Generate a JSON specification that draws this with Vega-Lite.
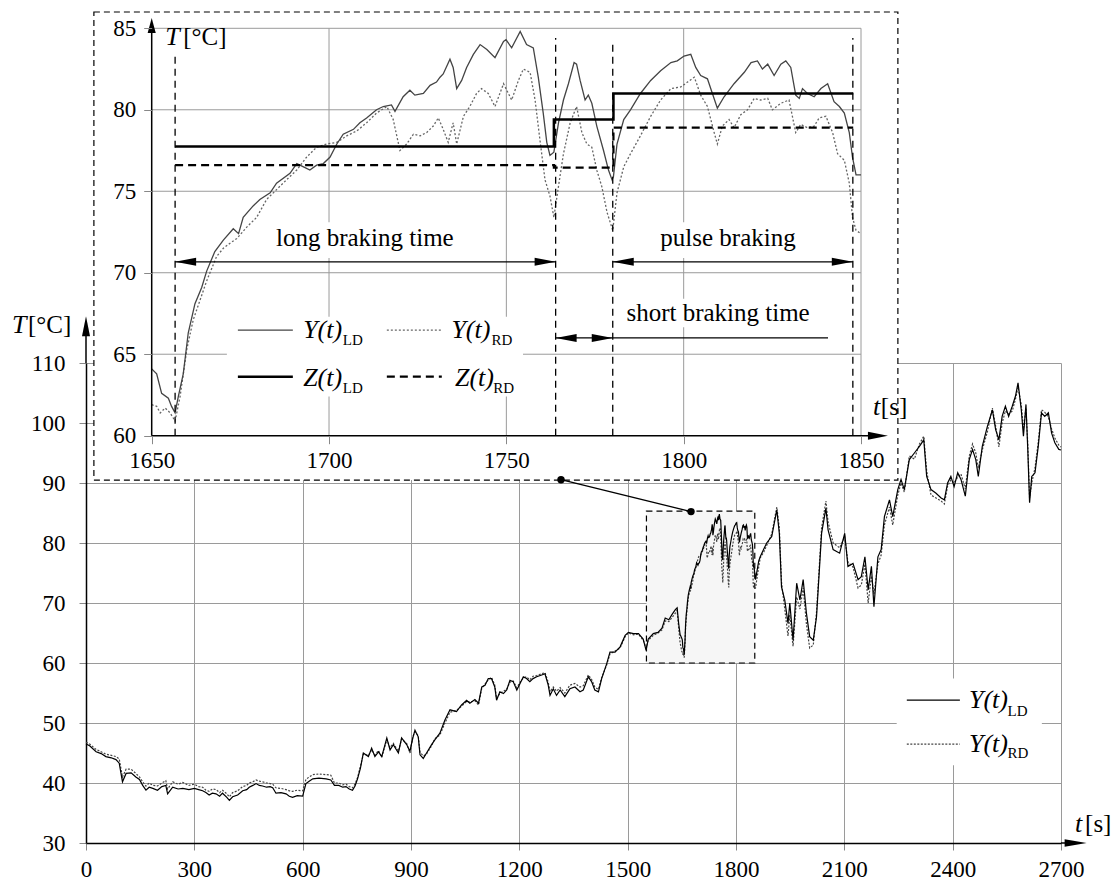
{
"$schema":"https://vega.github.io/schema/vega-lite/v6.json",
"width":975,"height":480,
"autosize":{"type":"none"},
"padding":{"left":86,"top":363,"right":51,"bottom":39},
"background":"white",
"config":{"view":{"stroke":null},"font":"Liberation Serif",
"axis":{"labelFont":"Liberation Serif","labelFontSize":23,"labelColor":"#000","tickColor":"#888","gridColor":"#9a9a9a","gridWidth":1,"domainColor":"#000","labelFlush":false,"labelOverlap":false,"format":"d"},
"text":{"font":"Liberation Serif","color":"#000"}},
"datasets":{"temps":[
{"t":0,"v":46.5,"s":"LD"},{"t":10,"v":46.2,"s":"LD"},{"t":28,"v":45.2,"s":"LD"},{"t":42,"v":44.9,"s":"LD"},{"t":55,"v":44.4,"s":"LD"},{"t":70,"v":44.2,"s":"LD"},{"t":83,"v":43.9,"s":"LD"},{"t":92,"v":43.3,"s":"LD"},{"t":101,"v":40.2,"s":"LD"},{"t":111,"v":41.6,"s":"LD"},{"t":125,"v":41.7,"s":"LD"},{"t":138,"v":41.0,"s":"LD"},{"t":148,"v":40.6,"s":"LD"},{"t":157,"v":39.6,"s":"LD"},{"t":166,"v":38.8,"s":"LD"},{"t":175,"v":39.3,"s":"LD"},{"t":185,"v":39.1,"s":"LD"},{"t":198,"v":38.8,"s":"LD"},{"t":210,"v":39.4,"s":"LD"},{"t":221,"v":39.6,"s":"LD"},{"t":226,"v":38.2,"s":"LD"},{"t":240,"v":39.3,"s":"LD"},{"t":255,"v":39.0,"s":"LD"},{"t":268,"v":39.1,"s":"LD"},{"t":285,"v":38.9,"s":"LD"},{"t":300,"v":39.1,"s":"LD"},{"t":312,"v":38.9,"s":"LD"},{"t":323,"v":38.7,"s":"LD"},{"t":332,"v":38.4,"s":"LD"},{"t":341,"v":38.0,"s":"LD"},{"t":350,"v":38.3,"s":"LD"},{"t":360,"v":38.2,"s":"LD"},{"t":370,"v":37.8,"s":"LD"},{"t":378,"v":38.3,"s":"LD"},{"t":390,"v":37.6,"s":"LD"},{"t":397,"v":37.1,"s":"LD"},{"t":406,"v":37.7,"s":"LD"},{"t":420,"v":38.0,"s":"LD"},{"t":434,"v":38.7,"s":"LD"},{"t":445,"v":38.9,"s":"LD"},{"t":452,"v":39.3,"s":"LD"},{"t":462,"v":39.6,"s":"LD"},{"t":471,"v":39.9,"s":"LD"},{"t":480,"v":39.6,"s":"LD"},{"t":489,"v":39.5,"s":"LD"},{"t":500,"v":39.3,"s":"LD"},{"t":510,"v":39.4,"s":"LD"},{"t":517,"v":39.2,"s":"LD"},{"t":526,"v":38.3,"s":"LD"},{"t":540,"v":38.4,"s":"LD"},{"t":554,"v":38.2,"s":"LD"},{"t":563,"v":37.8,"s":"LD"},{"t":572,"v":37.6,"s":"LD"},{"t":585,"v":37.9,"s":"LD"},{"t":600,"v":37.8,"s":"LD"},{"t":609,"v":39.9,"s":"LD"},{"t":618,"v":40.3,"s":"LD"},{"t":628,"v":40.7,"s":"LD"},{"t":645,"v":40.8,"s":"LD"},{"t":665,"v":40.7,"s":"LD"},{"t":678,"v":40.5,"s":"LD"},{"t":688,"v":39.6,"s":"LD"},{"t":700,"v":39.6,"s":"LD"},{"t":711,"v":39.3,"s":"LD"},{"t":720,"v":39.4,"s":"LD"},{"t":729,"v":39.0,"s":"LD"},{"t":738,"v":38.8,"s":"LD"},{"t":745,"v":39.5,"s":"LD"},{"t":752,"v":40.7,"s":"LD"},{"t":760,"v":42.5,"s":"LD"},{"t":768,"v":45.0,"s":"LD"},{"t":782,"v":44.4,"s":"LD"},{"t":791,"v":45.8,"s":"LD"},{"t":800,"v":44.4,"s":"LD"},{"t":810,"v":45.2,"s":"LD"},{"t":819,"v":44.4,"s":"LD"},{"t":833,"v":47.5,"s":"LD"},{"t":842,"v":45.5,"s":"LD"},{"t":851,"v":46.4,"s":"LD"},{"t":865,"v":45.0,"s":"LD"},{"t":874,"v":47.5,"s":"LD"},{"t":888,"v":46.4,"s":"LD"},{"t":897,"v":45.3,"s":"LD"},{"t":905,"v":47.5,"s":"LD"},{"t":911,"v":48.8,"s":"LD"},{"t":920,"v":47.7,"s":"LD"},{"t":925,"v":44.7,"s":"LD"},{"t":934,"v":44.1,"s":"LD"},{"t":943,"v":45.0,"s":"LD"},{"t":957,"v":46.4,"s":"LD"},{"t":966,"v":47.2,"s":"LD"},{"t":980,"v":48.3,"s":"LD"},{"t":994,"v":50.5,"s":"LD"},{"t":1008,"v":52.2,"s":"LD"},{"t":1026,"v":51.9,"s":"LD"},{"t":1040,"v":53.0,"s":"LD"},{"t":1054,"v":53.8,"s":"LD"},{"t":1063,"v":53.3,"s":"LD"},{"t":1077,"v":53.9,"s":"LD"},{"t":1087,"v":53.3,"s":"LD"},{"t":1096,"v":56.0,"s":"LD"},{"t":1105,"v":56.3,"s":"LD"},{"t":1114,"v":57.4,"s":"LD"},{"t":1123,"v":57.4,"s":"LD"},{"t":1132,"v":56.0,"s":"LD"},{"t":1137,"v":53.8,"s":"LD"},{"t":1146,"v":55.2,"s":"LD"},{"t":1156,"v":54.9,"s":"LD"},{"t":1165,"v":55.5,"s":"LD"},{"t":1174,"v":57.1,"s":"LD"},{"t":1183,"v":56.9,"s":"LD"},{"t":1193,"v":55.5,"s":"LD"},{"t":1202,"v":56.6,"s":"LD"},{"t":1211,"v":57.7,"s":"LD"},{"t":1220,"v":57.4,"s":"LD"},{"t":1229,"v":56.9,"s":"LD"},{"t":1238,"v":57.4,"s":"LD"},{"t":1248,"v":57.7,"s":"LD"},{"t":1262,"v":58.0,"s":"LD"},{"t":1271,"v":58.2,"s":"LD"},{"t":1280,"v":56.3,"s":"LD"},{"t":1285,"v":54.6,"s":"LD"},{"t":1294,"v":55.7,"s":"LD"},{"t":1303,"v":54.6,"s":"LD"},{"t":1313,"v":55.5,"s":"LD"},{"t":1326,"v":54.4,"s":"LD"},{"t":1340,"v":55.7,"s":"LD"},{"t":1354,"v":56.0,"s":"LD"},{"t":1368,"v":55.2,"s":"LD"},{"t":1377,"v":55.5,"s":"LD"},{"t":1391,"v":57.7,"s":"LD"},{"t":1400,"v":56.9,"s":"LD"},{"t":1409,"v":55.5,"s":"LD"},{"t":1419,"v":55.2,"s":"LD"},{"t":1428,"v":57.4,"s":"LD"},{"t":1442,"v":59.9,"s":"LD"},{"t":1451,"v":61.8,"s":"LD"},{"t":1465,"v":61.8,"s":"LD"},{"t":1479,"v":62.7,"s":"LD"},{"t":1493,"v":64.6,"s":"LD"},{"t":1502,"v":65.1,"s":"LD"},{"t":1516,"v":64.9,"s":"LD"},{"t":1530,"v":64.9,"s":"LD"},{"t":1543,"v":64.0,"s":"LD"},{"t":1551,"v":62.1,"s":"LD"},{"t":1557,"v":64.0,"s":"LD"},{"t":1571,"v":64.9,"s":"LD"},{"t":1584,"v":65.1,"s":"LD"},{"t":1595,"v":65.8,"s":"LD"},{"t":1604,"v":67.5,"s":"LD"},{"t":1614,"v":67.2,"s":"LD"},{"t":1623,"v":68.1,"s":"LD"},{"t":1632,"v":68.9,"s":"LD"},{"t":1637,"v":69.2,"s":"LD"},{"t":1641,"v":66.7,"s":"LD"},{"t":1645,"v":64.8,"s":"LD"},
{"t":1650,"v":64.1,"s":"LD"},{"t":1651.4,"v":63.8,"s":"LD"},{"t":1652.8,"v":62.6,"s":"LD"},{"t":1654.7,"v":62.3,"s":"LD"},{"t":1655.6,"v":61.8,"s":"LD"},{"t":1656.6,"v":61.4,"s":"LD"},{"t":1657.5,"v":62.4,"s":"LD"},{"t":1658.9,"v":63.8,"s":"LD"},{"t":1660.3,"v":66.3,"s":"LD"},{"t":1662.2,"v":68.1,"s":"LD"},{"t":1664.1,"v":69.1,"s":"LD"},{"t":1665.5,"v":70.1,"s":"LD"},{"t":1667.8,"v":71.3,"s":"LD"},{"t":1670.2,"v":72.0,"s":"LD"},{"t":1673,"v":72.7,"s":"LD"},{"t":1674.5,"v":72.4,"s":"LD"},{"t":1675.8,"v":73.4,"s":"LD"},{"t":1678.6,"v":74.1,"s":"LD"},{"t":1680.5,"v":74.5,"s":"LD"},{"t":1683.4,"v":74.9,"s":"LD"},{"t":1685.2,"v":75.5,"s":"LD"},{"t":1689,"v":76.1,"s":"LD"},{"t":1690.9,"v":76.7,"s":"LD"},{"t":1692.8,"v":76.5,"s":"LD"},{"t":1694.6,"v":76.3,"s":"LD"},{"t":1696.5,"v":76.6,"s":"LD"},{"t":1698.4,"v":76.7,"s":"LD"},{"t":1700.3,"v":77.1,"s":"LD"},{"t":1702.2,"v":77.9,"s":"LD"},{"t":1704,"v":78.5,"s":"LD"},{"t":1706.9,"v":78.8,"s":"LD"},{"t":1708.7,"v":79.2,"s":"LD"},{"t":1710.6,"v":79.5,"s":"LD"},{"t":1713.4,"v":80.0,"s":"LD"},{"t":1715.3,"v":80.2,"s":"LD"},{"t":1717.6,"v":80.3,"s":"LD"},{"t":1718.6,"v":79.9,"s":"LD"},{"t":1720.9,"v":80.8,"s":"LD"},{"t":1722.8,"v":81.2,"s":"LD"},{"t":1724.2,"v":80.9,"s":"LD"},{"t":1726.6,"v":81.0,"s":"LD"},{"t":1728.5,"v":81.5,"s":"LD"},{"t":1730.3,"v":81.7,"s":"LD"},{"t":1731.3,"v":82.0,"s":"LD"},{"t":1732.2,"v":82.2,"s":"LD"},{"t":1734.1,"v":83.1,"s":"LD"},{"t":1735,"v":82.6,"s":"LD"},{"t":1736,"v":81.3,"s":"LD"},{"t":1737.4,"v":81.8,"s":"LD"},{"t":1738.8,"v":82.6,"s":"LD"},{"t":1740.7,"v":83.4,"s":"LD"},{"t":1742.6,"v":84.0,"s":"LD"},{"t":1744.5,"v":83.7,"s":"LD"},{"t":1746.8,"v":83.2,"s":"LD"},{"t":1749.2,"v":84.2,"s":"LD"},{"t":1749.9,"v":84.3,"s":"LD"},{"t":1751.5,"v":83.8,"s":"LD"},{"t":1753.9,"v":84.8,"s":"LD"},{"t":1755.7,"v":84.0,"s":"LD"},{"t":1757.6,"v":83.8,"s":"LD"},{"t":1759,"v":82.0,"s":"LD"},{"t":1760.4,"v":79.8,"s":"LD"},{"t":1761.4,"v":78.0,"s":"LD"},{"t":1762.3,"v":77.2,"s":"LD"},{"t":1763.4,"v":77.4,"s":"LD"},{"t":1764.7,"v":79.2,"s":"LD"},{"t":1766.1,"v":80.6,"s":"LD"},{"t":1767.5,"v":81.6,"s":"LD"},{"t":1769.1,"v":82.9,"s":"LD"},{"t":1769.8,"v":82.8,"s":"LD"},{"t":1770.8,"v":81.8,"s":"LD"},{"t":1772.2,"v":80.6,"s":"LD"},{"t":1773.1,"v":80.9,"s":"LD"},{"t":1774.1,"v":80.4,"s":"LD"},{"t":1775.5,"v":79.0,"s":"LD"},{"t":1777.4,"v":77.5,"s":"LD"},{"t":1778.8,"v":76.3,"s":"LD"},{"t":1779.8,"v":75.7,"s":"LD"},{"t":1780.2,"v":75.9,"s":"LD"},{"t":1781.2,"v":77.9,"s":"LD"},{"t":1783.1,"v":79.4,"s":"LD"},{"t":1785,"v":80.0,"s":"LD"},{"t":1787.8,"v":81.0,"s":"LD"},{"t":1790.7,"v":81.8,"s":"LD"},{"t":1793.5,"v":82.4,"s":"LD"},{"t":1796.4,"v":82.9,"s":"LD"},{"t":1798.2,"v":83.0,"s":"LD"},{"t":1800.1,"v":83.3,"s":"LD"},{"t":1802,"v":83.4,"s":"LD"},{"t":1803.4,"v":82.6,"s":"LD"},{"t":1804.8,"v":82.1,"s":"LD"},{"t":1806.7,"v":81.9,"s":"LD"},{"t":1808.1,"v":81.0,"s":"LD"},{"t":1809.5,"v":80.1,"s":"LD"},{"t":1811.4,"v":80.8,"s":"LD"},{"t":1814.2,"v":81.6,"s":"LD"},{"t":1817.1,"v":82.3,"s":"LD"},{"t":1819,"v":82.9,"s":"LD"},{"t":1820.8,"v":83.0,"s":"LD"},{"t":1822.2,"v":82.5,"s":"LD"},{"t":1823.7,"v":82.8,"s":"LD"},{"t":1825.5,"v":82.1,"s":"LD"},{"t":1827.4,"v":82.8,"s":"LD"},{"t":1828.8,"v":83.0,"s":"LD"},{"t":1830.2,"v":82.6,"s":"LD"},{"t":1831.6,"v":80.9,"s":"LD"},{"t":1832.6,"v":80.7,"s":"LD"},{"t":1833.5,"v":81.3,"s":"LD"},{"t":1834.9,"v":81.0,"s":"LD"},{"t":1836.8,"v":80.8,"s":"LD"},{"t":1838.7,"v":81.3,"s":"LD"},{"t":1840.6,"v":81.6,"s":"LD"},{"t":1842.4,"v":80.5,"s":"LD"},{"t":1843.9,"v":80.2,"s":"LD"},{"t":1845.3,"v":79.8,"s":"LD"},{"t":1846.7,"v":78.6,"s":"LD"},{"t":1847.6,"v":77.1,"s":"LD"},{"t":1848.6,"v":76.0,"s":"LD"},{"t":1850,"v":76.0,"s":"LD"},
{"t":1854,"v":73.9,"s":"LD"},{"t":1863,"v":77.0,"s":"LD"},{"t":1867,"v":77.7,"s":"LD"},{"t":1877,"v":79.0,"s":"LD"},{"t":1885,"v":80.0,"s":"LD"},{"t":1899,"v":81.1,"s":"LD"},{"t":1913,"v":85.5,"s":"LD"},{"t":1920,"v":81.6,"s":"LD"},{"t":1926,"v":72.7,"s":"LD"},{"t":1935,"v":70.5,"s":"LD"},{"t":1944,"v":66.6,"s":"LD"},{"t":1949,"v":70.0,"s":"LD"},{"t":1958,"v":63.8,"s":"LD"},{"t":1968,"v":73.3,"s":"LD"},{"t":1977,"v":70.5,"s":"LD"},{"t":1986,"v":73.9,"s":"LD"},{"t":1995,"v":68.3,"s":"LD"},{"t":2004,"v":64.4,"s":"LD"},{"t":2014,"v":63.8,"s":"LD"},{"t":2023,"v":67.7,"s":"LD"},{"t":2037,"v":81.6,"s":"LD"},{"t":2049,"v":85.8,"s":"LD"},{"t":2055,"v":82.2,"s":"LD"},{"t":2069,"v":78.9,"s":"LD"},{"t":2087,"v":78.3,"s":"LD"},{"t":2101,"v":81.6,"s":"LD"},{"t":2110,"v":76.1,"s":"LD"},{"t":2124,"v":76.6,"s":"LD"},{"t":2138,"v":73.9,"s":"LD"},{"t":2147,"v":74.4,"s":"LD"},{"t":2157,"v":77.7,"s":"LD"},{"t":2166,"v":72.2,"s":"LD"},{"t":2175,"v":76.1,"s":"LD"},{"t":2182,"v":69.4,"s":"LD"},{"t":2193,"v":77.7,"s":"LD"},{"t":2202,"v":78.9,"s":"LD"},{"t":2211,"v":84.4,"s":"LD"},{"t":2225,"v":87.2,"s":"LD"},{"t":2234,"v":84.4,"s":"LD"},{"t":2248,"v":88.9,"s":"LD"},{"t":2257,"v":90.6,"s":"LD"},{"t":2266,"v":88.9,"s":"LD"},{"t":2280,"v":93.9,"s":"LD"},{"t":2294,"v":95.0,"s":"LD"},{"t":2308,"v":96.1,"s":"LD"},{"t":2320,"v":97.2,"s":"LD"},{"t":2328,"v":91.1,"s":"LD"},{"t":2340,"v":88.9,"s":"LD"},{"t":2354,"v":88.3,"s":"LD"},{"t":2368,"v":87.5,"s":"LD"},{"t":2377,"v":87.2,"s":"LD"},{"t":2386,"v":90.0,"s":"LD"},{"t":2395,"v":91.1,"s":"LD"},{"t":2404,"v":89.4,"s":"LD"},{"t":2414,"v":91.7,"s":"LD"},{"t":2423,"v":90.6,"s":"LD"},{"t":2435,"v":87.8,"s":"LD"},{"t":2446,"v":93.9,"s":"LD"},{"t":2455,"v":95.6,"s":"LD"},{"t":2464,"v":93.9,"s":"LD"},{"t":2471,"v":91.1,"s":"LD"},{"t":2482,"v":96.1,"s":"LD"},{"t":2496,"v":99.4,"s":"LD"},{"t":2510,"v":102.2,"s":"LD"},{"t":2519,"v":98.9,"s":"LD"},{"t":2528,"v":97.2,"s":"LD"},{"t":2537,"v":101.1,"s":"LD"},{"t":2546,"v":102.8,"s":"LD"},{"t":2555,"v":101.1,"s":"LD"},{"t":2565,"v":102.8,"s":"LD"},{"t":2574,"v":104.5,"s":"LD"},{"t":2581,"v":106.7,"s":"LD"},{"t":2590,"v":102.2,"s":"LD"},{"t":2596,"v":97.8,"s":"LD"},{"t":2603,"v":103.1,"s":"LD"},{"t":2608,"v":95.6,"s":"LD"},{"t":2613,"v":86.7,"s":"LD"},{"t":2619,"v":91.1,"s":"LD"},{"t":2628,"v":91.7,"s":"LD"},{"t":2637,"v":96.1,"s":"LD"},{"t":2646,"v":101.7,"s":"LD"},{"t":2655,"v":101.1,"s":"LD"},{"t":2665,"v":101.7,"s":"LD"},{"t":2674,"v":98.3,"s":"LD"},{"t":2683,"v":96.7,"s":"LD"},{"t":2694,"v":95.6,"s":"LD"},{"t":2700,"v":95.5,"s":"LD"},
{"t":0,"v":46.8,"s":"RD"},{"t":10,"v":46.5,"s":"RD"},{"t":28,"v":45.6,"s":"RD"},{"t":42,"v":45.2,"s":"RD"},{"t":55,"v":44.8,"s":"RD"},{"t":70,"v":44.6,"s":"RD"},{"t":83,"v":44.4,"s":"RD"},{"t":92,"v":44.0,"s":"RD"},{"t":101,"v":41.0,"s":"RD"},{"t":111,"v":42.3,"s":"RD"},{"t":125,"v":42.3,"s":"RD"},{"t":138,"v":41.6,"s":"RD"},{"t":148,"v":41.0,"s":"RD"},{"t":157,"v":40.2,"s":"RD"},{"t":166,"v":39.5,"s":"RD"},{"t":175,"v":40.0,"s":"RD"},{"t":185,"v":39.6,"s":"RD"},{"t":198,"v":39.5,"s":"RD"},{"t":210,"v":40.0,"s":"RD"},{"t":221,"v":40.4,"s":"RD"},{"t":226,"v":39.0,"s":"RD"},{"t":240,"v":40.2,"s":"RD"},{"t":255,"v":39.8,"s":"RD"},{"t":268,"v":40.1,"s":"RD"},{"t":285,"v":39.6,"s":"RD"},{"t":300,"v":39.8,"s":"RD"},{"t":312,"v":39.4,"s":"RD"},{"t":323,"v":39.3,"s":"RD"},{"t":332,"v":38.8,"s":"RD"},{"t":341,"v":38.6,"s":"RD"},{"t":350,"v":39.0,"s":"RD"},{"t":360,"v":38.9,"s":"RD"},{"t":370,"v":38.4,"s":"RD"},{"t":378,"v":38.8,"s":"RD"},{"t":390,"v":38.2,"s":"RD"},{"t":397,"v":37.7,"s":"RD"},{"t":406,"v":38.4,"s":"RD"},{"t":420,"v":38.7,"s":"RD"},{"t":434,"v":39.4,"s":"RD"},{"t":445,"v":39.6,"s":"RD"},{"t":452,"v":40.0,"s":"RD"},{"t":462,"v":40.2,"s":"RD"},{"t":471,"v":40.5,"s":"RD"},{"t":480,"v":40.3,"s":"RD"},{"t":489,"v":40.2,"s":"RD"},{"t":500,"v":40.0,"s":"RD"},{"t":510,"v":39.9,"s":"RD"},{"t":517,"v":39.8,"s":"RD"},{"t":526,"v":39.2,"s":"RD"},{"t":540,"v":39.1,"s":"RD"},{"t":554,"v":38.9,"s":"RD"},{"t":563,"v":38.7,"s":"RD"},{"t":572,"v":38.6,"s":"RD"},{"t":585,"v":38.8,"s":"RD"},{"t":600,"v":38.7,"s":"RD"},{"t":609,"v":40.6,"s":"RD"},{"t":618,"v":41.0,"s":"RD"},{"t":628,"v":41.4,"s":"RD"},{"t":645,"v":41.5,"s":"RD"},{"t":665,"v":41.4,"s":"RD"},{"t":678,"v":41.3,"s":"RD"},{"t":688,"v":40.0,"s":"RD"},{"t":700,"v":40.0,"s":"RD"},{"t":711,"v":39.7,"s":"RD"},{"t":720,"v":39.8,"s":"RD"},{"t":729,"v":39.4,"s":"RD"},{"t":738,"v":39.2,"s":"RD"},{"t":745,"v":39.8,"s":"RD"},{"t":752,"v":40.9,"s":"RD"},{"t":760,"v":42.8,"s":"RD"},{"t":768,"v":44.8,"s":"RD"},{"t":782,"v":44.6,"s":"RD"},{"t":791,"v":45.5,"s":"RD"},{"t":800,"v":44.7,"s":"RD"},{"t":810,"v":45.4,"s":"RD"},{"t":819,"v":44.3,"s":"RD"},{"t":833,"v":47.2,"s":"RD"},{"t":842,"v":45.9,"s":"RD"},{"t":851,"v":46.6,"s":"RD"},{"t":865,"v":45.3,"s":"RD"},{"t":874,"v":47.3,"s":"RD"},{"t":888,"v":46.6,"s":"RD"},{"t":897,"v":45.0,"s":"RD"},{"t":905,"v":47.7,"s":"RD"},{"t":911,"v":48.5,"s":"RD"},{"t":920,"v":47.9,"s":"RD"},{"t":925,"v":45.1,"s":"RD"},{"t":934,"v":44.5,"s":"RD"},{"t":943,"v":44.8,"s":"RD"},{"t":957,"v":46.2,"s":"RD"},{"t":966,"v":47.4,"s":"RD"},{"t":980,"v":48.0,"s":"RD"},{"t":994,"v":50.0,"s":"RD"},{"t":1008,"v":51.8,"s":"RD"},{"t":1026,"v":52.1,"s":"RD"},{"t":1040,"v":52.8,"s":"RD"},{"t":1054,"v":53.6,"s":"RD"},{"t":1063,"v":53.5,"s":"RD"},{"t":1077,"v":53.7,"s":"RD"},{"t":1087,"v":53.0,"s":"RD"},{"t":1096,"v":55.8,"s":"RD"},{"t":1105,"v":56.5,"s":"RD"},{"t":1114,"v":57.2,"s":"RD"},{"t":1123,"v":57.6,"s":"RD"},{"t":1132,"v":56.3,"s":"RD"},{"t":1137,"v":54.1,"s":"RD"},{"t":1146,"v":54.9,"s":"RD"},{"t":1156,"v":55.3,"s":"RD"},{"t":1165,"v":55.6,"s":"RD"},{"t":1174,"v":56.8,"s":"RD"},{"t":1183,"v":57.0,"s":"RD"},{"t":1193,"v":55.9,"s":"RD"},{"t":1202,"v":56.8,"s":"RD"},{"t":1211,"v":57.5,"s":"RD"},{"t":1220,"v":57.7,"s":"RD"},{"t":1229,"v":57.2,"s":"RD"},{"t":1238,"v":57.8,"s":"RD"},{"t":1248,"v":57.9,"s":"RD"},{"t":1262,"v":58.2,"s":"RD"},{"t":1271,"v":58.4,"s":"RD"},{"t":1280,"v":56.8,"s":"RD"},{"t":1285,"v":55.2,"s":"RD"},{"t":1294,"v":56.0,"s":"RD"},{"t":1303,"v":55.3,"s":"RD"},{"t":1313,"v":55.9,"s":"RD"},{"t":1326,"v":55.0,"s":"RD"},{"t":1340,"v":56.3,"s":"RD"},{"t":1354,"v":56.6,"s":"RD"},{"t":1368,"v":56.0,"s":"RD"},{"t":1377,"v":56.2,"s":"RD"},{"t":1391,"v":58.0,"s":"RD"},{"t":1400,"v":57.3,"s":"RD"},{"t":1409,"v":56.0,"s":"RD"},{"t":1419,"v":55.6,"s":"RD"},{"t":1428,"v":57.6,"s":"RD"},{"t":1442,"v":59.7,"s":"RD"},{"t":1451,"v":61.5,"s":"RD"},{"t":1465,"v":62.0,"s":"RD"},{"t":1479,"v":62.5,"s":"RD"},{"t":1493,"v":64.4,"s":"RD"},{"t":1502,"v":65.0,"s":"RD"},{"t":1516,"v":64.7,"s":"RD"},{"t":1530,"v":64.8,"s":"RD"},{"t":1543,"v":63.8,"s":"RD"},{"t":1551,"v":62.5,"s":"RD"},{"t":1557,"v":63.8,"s":"RD"},{"t":1571,"v":64.6,"s":"RD"},{"t":1584,"v":65.0,"s":"RD"},{"t":1595,"v":65.5,"s":"RD"},{"t":1604,"v":67.0,"s":"RD"},{"t":1614,"v":66.9,"s":"RD"},{"t":1623,"v":67.6,"s":"RD"},{"t":1632,"v":68.3,"s":"RD"},{"t":1637,"v":68.8,"s":"RD"},{"t":1641,"v":66.0,"s":"RD"},{"t":1645,"v":63.5,"s":"RD"},
{"t":1650,"v":61.9,"s":"RD"},{"t":1651.4,"v":61.8,"s":"RD"},{"t":1652.4,"v":61.4,"s":"RD"},{"t":1653.8,"v":61.7,"s":"RD"},{"t":1655.2,"v":61.4,"s":"RD"},{"t":1656.6,"v":60.9,"s":"RD"},{"t":1658,"v":62.4,"s":"RD"},{"t":1659.9,"v":65.3,"s":"RD"},{"t":1661.7,"v":67.1,"s":"RD"},{"t":1663.6,"v":68.3,"s":"RD"},{"t":1665.5,"v":69.5,"s":"RD"},{"t":1668.3,"v":71.0,"s":"RD"},{"t":1670.2,"v":71.5,"s":"RD"},{"t":1672,"v":71.8,"s":"RD"},{"t":1674,"v":72.1,"s":"RD"},{"t":1676.8,"v":72.8,"s":"RD"},{"t":1679.6,"v":73.4,"s":"RD"},{"t":1682.4,"v":74.5,"s":"RD"},{"t":1685.2,"v":75.1,"s":"RD"},{"t":1688,"v":75.7,"s":"RD"},{"t":1690.9,"v":76.3,"s":"RD"},{"t":1693.7,"v":77.1,"s":"RD"},{"t":1696.5,"v":77.7,"s":"RD"},{"t":1699.3,"v":77.9,"s":"RD"},{"t":1702.2,"v":78.0,"s":"RD"},{"t":1705,"v":78.4,"s":"RD"},{"t":1707.8,"v":78.7,"s":"RD"},{"t":1710.6,"v":79.2,"s":"RD"},{"t":1713.4,"v":79.8,"s":"RD"},{"t":1716.3,"v":80.2,"s":"RD"},{"t":1718.1,"v":79.4,"s":"RD"},{"t":1720,"v":77.5,"s":"RD"},{"t":1721.9,"v":77.9,"s":"RD"},{"t":1723.8,"v":78.5,"s":"RD"},{"t":1725.7,"v":78.4,"s":"RD"},{"t":1727.5,"v":78.6,"s":"RD"},{"t":1729.4,"v":79.0,"s":"RD"},{"t":1730.8,"v":79.5,"s":"RD"},{"t":1732.2,"v":78.8,"s":"RD"},{"t":1733.6,"v":78.0,"s":"RD"},{"t":1735,"v":79.2,"s":"RD"},{"t":1736,"v":77.9,"s":"RD"},{"t":1737.9,"v":79.6,"s":"RD"},{"t":1739.7,"v":80.2,"s":"RD"},{"t":1741.6,"v":81.0,"s":"RD"},{"t":1743,"v":81.3,"s":"RD"},{"t":1744.9,"v":81.0,"s":"RD"},{"t":1746.8,"v":80.2,"s":"RD"},{"t":1749.2,"v":81.6,"s":"RD"},{"t":1751.5,"v":80.6,"s":"RD"},{"t":1753.4,"v":81.8,"s":"RD"},{"t":1754.8,"v":82.5,"s":"RD"},{"t":1756.7,"v":82.3,"s":"RD"},{"t":1758.1,"v":80.6,"s":"RD"},{"t":1759.5,"v":78.1,"s":"RD"},{"t":1760.9,"v":75.7,"s":"RD"},{"t":1762.3,"v":74.7,"s":"RD"},{"t":1763.4,"v":73.4,"s":"RD"},{"t":1764.7,"v":75.3,"s":"RD"},{"t":1766.1,"v":77.3,"s":"RD"},{"t":1768,"v":79.2,"s":"RD"},{"t":1769.8,"v":80.2,"s":"RD"},{"t":1771.3,"v":78.6,"s":"RD"},{"t":1772.7,"v":77.9,"s":"RD"},{"t":1774.1,"v":77.7,"s":"RD"},{"t":1775.5,"v":76.3,"s":"RD"},{"t":1776.9,"v":75.3,"s":"RD"},{"t":1778.4,"v":73.7,"s":"RD"},{"t":1780,"v":72.6,"s":"RD"},{"t":1781.2,"v":74.9,"s":"RD"},{"t":1783.1,"v":76.5,"s":"RD"},{"t":1785,"v":77.3,"s":"RD"},{"t":1787.8,"v":78.4,"s":"RD"},{"t":1790.7,"v":79.6,"s":"RD"},{"t":1793.5,"v":80.6,"s":"RD"},{"t":1796.4,"v":81.3,"s":"RD"},{"t":1799.2,"v":81.4,"s":"RD"},{"t":1801.1,"v":81.7,"s":"RD"},{"t":1803,"v":82.0,"s":"RD"},{"t":1804.8,"v":80.9,"s":"RD"},{"t":1806.7,"v":80.2,"s":"RD"},{"t":1808.6,"v":78.6,"s":"RD"},{"t":1809.5,"v":77.9,"s":"RD"},{"t":1810.9,"v":79.0,"s":"RD"},{"t":1812.8,"v":79.4,"s":"RD"},{"t":1814.2,"v":78.9,"s":"RD"},{"t":1816.1,"v":79.7,"s":"RD"},{"t":1818,"v":80.0,"s":"RD"},{"t":1819.9,"v":80.7,"s":"RD"},{"t":1821.7,"v":80.6,"s":"RD"},{"t":1823.7,"v":80.7,"s":"RD"},{"t":1825,"v":80.0,"s":"RD"},{"t":1827.4,"v":80.4,"s":"RD"},{"t":1829.7,"v":80.6,"s":"RD"},{"t":1831.6,"v":78.6,"s":"RD"},{"t":1833,"v":79.1,"s":"RD"},{"t":1834.9,"v":78.9,"s":"RD"},{"t":1836.8,"v":79.0,"s":"RD"},{"t":1838.2,"v":79.5,"s":"RD"},{"t":1840.1,"v":79.6,"s":"RD"},{"t":1842,"v":78.6,"s":"RD"},{"t":1843.4,"v":77.3,"s":"RD"},{"t":1845.3,"v":76.9,"s":"RD"},{"t":1846.7,"v":75.5,"s":"RD"},{"t":1847.6,"v":73.4,"s":"RD"},{"t":1848.6,"v":72.6,"s":"RD"},{"t":1850,"v":72.4,"s":"RD"},
{"t":1854,"v":72.5,"s":"RD"},{"t":1863,"v":76.0,"s":"RD"},{"t":1867,"v":77.5,"s":"RD"},{"t":1877,"v":78.5,"s":"RD"},{"t":1885,"v":79.6,"s":"RD"},{"t":1899,"v":81.5,"s":"RD"},{"t":1913,"v":86.0,"s":"RD"},{"t":1920,"v":82.5,"s":"RD"},{"t":1926,"v":73.5,"s":"RD"},{"t":1935,"v":69.0,"s":"RD"},{"t":1944,"v":64.5,"s":"RD"},{"t":1949,"v":68.0,"s":"RD"},{"t":1958,"v":62.8,"s":"RD"},{"t":1968,"v":71.0,"s":"RD"},{"t":1977,"v":69.0,"s":"RD"},{"t":1986,"v":72.5,"s":"RD"},{"t":1995,"v":66.5,"s":"RD"},{"t":2004,"v":62.5,"s":"RD"},{"t":2014,"v":63.0,"s":"RD"},{"t":2023,"v":68.5,"s":"RD"},{"t":2037,"v":82.5,"s":"RD"},{"t":2049,"v":87.0,"s":"RD"},{"t":2055,"v":83.5,"s":"RD"},{"t":2069,"v":80.0,"s":"RD"},{"t":2087,"v":79.2,"s":"RD"},{"t":2101,"v":81.0,"s":"RD"},{"t":2110,"v":76.8,"s":"RD"},{"t":2124,"v":76.0,"s":"RD"},{"t":2138,"v":72.5,"s":"RD"},{"t":2147,"v":73.0,"s":"RD"},{"t":2157,"v":76.5,"s":"RD"},{"t":2166,"v":70.0,"s":"RD"},{"t":2175,"v":74.5,"s":"RD"},{"t":2182,"v":71.5,"s":"RD"},{"t":2193,"v":76.5,"s":"RD"},{"t":2202,"v":78.0,"s":"RD"},{"t":2211,"v":83.0,"s":"RD"},{"t":2225,"v":86.0,"s":"RD"},{"t":2234,"v":83.0,"s":"RD"},{"t":2248,"v":88.0,"s":"RD"},{"t":2257,"v":90.0,"s":"RD"},{"t":2266,"v":88.5,"s":"RD"},{"t":2280,"v":94.5,"s":"RD"},{"t":2294,"v":94.0,"s":"RD"},{"t":2308,"v":96.5,"s":"RD"},{"t":2320,"v":97.8,"s":"RD"},{"t":2328,"v":92.0,"s":"RD"},{"t":2340,"v":88.0,"s":"RD"},{"t":2354,"v":87.5,"s":"RD"},{"t":2368,"v":87.0,"s":"RD"},{"t":2377,"v":86.5,"s":"RD"},{"t":2386,"v":89.5,"s":"RD"},{"t":2395,"v":90.5,"s":"RD"},{"t":2404,"v":90.0,"s":"RD"},{"t":2414,"v":91.0,"s":"RD"},{"t":2423,"v":91.5,"s":"RD"},{"t":2435,"v":89.0,"s":"RD"},{"t":2446,"v":94.5,"s":"RD"},{"t":2455,"v":96.5,"s":"RD"},{"t":2464,"v":95.0,"s":"RD"},{"t":2471,"v":92.5,"s":"RD"},{"t":2482,"v":95.5,"s":"RD"},{"t":2496,"v":98.5,"s":"RD"},{"t":2510,"v":102.5,"s":"RD"},{"t":2519,"v":99.5,"s":"RD"},{"t":2528,"v":96.0,"s":"RD"},{"t":2537,"v":100.0,"s":"RD"},{"t":2546,"v":102.0,"s":"RD"},{"t":2555,"v":101.5,"s":"RD"},{"t":2565,"v":102.0,"s":"RD"},{"t":2574,"v":104.0,"s":"RD"},{"t":2581,"v":106.0,"s":"RD"},{"t":2590,"v":103.0,"s":"RD"},{"t":2596,"v":99.0,"s":"RD"},{"t":2603,"v":102.5,"s":"RD"},{"t":2608,"v":96.5,"s":"RD"},{"t":2613,"v":87.5,"s":"RD"},{"t":2619,"v":90.0,"s":"RD"},{"t":2628,"v":92.5,"s":"RD"},{"t":2637,"v":96.8,"s":"RD"},{"t":2646,"v":102.2,"s":"RD"},{"t":2655,"v":101.8,"s":"RD"},{"t":2665,"v":101.0,"s":"RD"},{"t":2674,"v":99.0,"s":"RD"},{"t":2683,"v":97.5,"s":"RD"},{"t":2694,"v":96.3,"s":"RD"},{"t":2700,"v":96.0,"s":"RD"}
]},
"resolve":{"scale":{"x":"independent","y":"independent"},"axis":{"x":"independent","y":"independent"}},
"layer":[
{"encoding":{
 "x":{"field":"t","type":"quantitative","scale":{"domain":[0,2700],"nice":false,"zero":false},"axis":{"values":[0,300,600,900,1200,1500,1800,2100,2400,2700],"grid":true,"tickSize":7,"labelPadding":8,"domainWidth":1.5,"title":null}},
 "y":{"field":"v","type":"quantitative","scale":{"domain":[30,110],"nice":false,"zero":false},"axis":{"values":[30,40,50,60,70,80,90,100,110],"grid":true,"tickSize":7,"labelPadding":14,"domainWidth":1.5,"title":null}}},
 "layer":[
 {"data":{"values":[{"t":1552,"t2":1852,"v":60,"v2":85.3}]},"mark":{"type":"rect","fill":"#f6f6f6","stroke":"#000","strokeDash":[6,4],"strokeWidth":1.2},"encoding":{"x2":{"field":"t2"},"y2":{"field":"v2"}}},
 {"data":{"name":"temps"},"transform":[{"filter":"datum.s == 'RD'"}],"mark":{"type":"line","color":"#444","strokeWidth":1.2,"strokeDash":[2,1.5]}},
 {"data":{"name":"temps"},"transform":[{"filter":"datum.s == 'LD'"}],"mark":{"type":"line","color":"#000","strokeWidth":1.2}},
 {"data":{"values":[{"t":2245,"t2":2647,"v":42.95,"v2":57.4}]},"mark":{"type":"rect","fill":"white"},"encoding":{"x2":{"field":"t2"},"y2":{"field":"v2"}}},
 {"data":{"values":[{"t":2273,"t2":2420,"v":53.8}]},"mark":{"type":"rule","color":"#000","strokeWidth":1.2},"encoding":{"x2":{"field":"t2"}}},
 {"data":{"values":[{"t":2273,"t2":2420,"v":46.48}]},"mark":{"type":"rule","color":"#444","strokeWidth":1.2,"strokeDash":[2,1.5]},"encoding":{"x2":{"field":"t2"}}},
 {"data":{"values":[{"t":2700,"t2":2745,"v":30},{"t":0,"v":110,"v2":116}]},"mark":{"type":"rule","color":"#000","strokeWidth":1.5},"encoding":{"x2":{"field":"t2"},"y2":{"field":"v2"}}},
 {"data":{"values":[{"t":2771,"v":30}]},"mark":{"type":"point","shape":"M0,0L-1,-0.17L-1,0.17Z","size":1936,"filled":true,"color":"#000","opacity":1}},
 {"data":{"values":[{"t":0,"v":117.8}]},"mark":{"type":"point","shape":"M0,0L-0.2,1L0.2,1Z","size":1600,"filled":true,"color":"#000","opacity":1}},
 {"data":{"values":[{"t":2445,"v":53.8,"txt":"Y(t)"},{"t":2445,"v":46.48,"txt":"Y(t)"},{"t":2739,"v":33.1,"txt":"t"},{"t":-205,"v":116.4,"txt":"T"}]},"mark":{"type":"text","fontStyle":"italic","fontSize":26,"align":"left","baseline":"middle"},"encoding":{"text":{"field":"txt"}}},
 {"data":{"values":[{"t":2766.6,"v":33.1,"txt":"[s]"},{"t":-160.6,"v":116.4,"txt":"[°C]"}]},"mark":{"type":"text","fontSize":25,"align":"left","baseline":"middle"},"encoding":{"text":{"field":"txt"}}},
 {"data":{"values":[{"t":2552,"v":52.0,"txt":"LD"},{"t":2552,"v":44.92,"txt":"RD"}]},"mark":{"type":"text","fontSize":15,"align":"left","baseline":"middle"},"encoding":{"text":{"field":"txt"}}}
 ]},
{"encoding":{
 "x":{"field":"t","type":"quantitative","scale":{"domain":[1650,1850],"range":[65.7,775],"nice":false,"zero":false},"axis":{"orient":"bottom","offset":-407.3,"values":[1650,1700,1750,1800,1850],"grid":false,"domain":false,"tickSize":8,"labelPadding":6,"zindex":1,"title":null}},
 "y":{"field":"v","type":"quantitative","scale":{"domain":[60,85],"range":[72.7,-334.7],"nice":false,"zero":false},"axis":{"orient":"left","offset":-65.7,"values":[60,65,70,75,80,85],"grid":false,"domain":false,"tickSize":8,"labelPadding":8,"zindex":1,"title":null}}},
 "layer":[
 {"data":{"values":[{"t":1633.7,"t2":1860.4,"v":57.28,"v2":86.0}]},"mark":{"type":"rect","fill":"white","stroke":"#000","strokeDash":[6,4],"strokeWidth":1.2},"encoding":{"x2":{"field":"t2"},"y2":{"field":"v2"}}},
 {"data":{"values":[{"t":1700,"v":60,"v2":85},{"t":1750,"v":60,"v2":85},{"t":1800,"v":60,"v2":85},{"t":1850,"v":60,"v2":85},{"t":1650,"t2":1850,"v":65},{"t":1650,"t2":1850,"v":70},{"t":1650,"t2":1850,"v":75},{"t":1650,"t2":1850,"v":80},{"t":1650,"t2":1850,"v":85}]},"mark":{"type":"rule","color":"#9a9a9a","strokeWidth":1},"encoding":{"x2":{"field":"t2"},"y2":{"field":"v2"}}},
 {"data":{"values":[{"t":1683.3,"t2":1736.4,"v":70.9,"v2":73.1},{"t":1792.8,"t2":1831.9,"v":70.9,"v2":73.1},{"t":1782.9,"t2":1836.5,"v":66.65,"v2":68.4},{"t":1671.2,"t2":1754.7,"v":62.4,"v2":67.3}]},"mark":{"type":"rect","fill":"white"},"encoding":{"x2":{"field":"t2"},"y2":{"field":"v2"}}},
 {"data":{"name":"temps"},"transform":[{"filter":"datum.s == 'RD' && datum.t >= 1650 && datum.t <= 1850"}],"mark":{"type":"line","color":"#666","strokeWidth":1.3,"strokeDash":[2,2]}},
 {"data":{"name":"temps"},"transform":[{"filter":"datum.s == 'LD' && datum.t >= 1650 && datum.t <= 1850"}],"mark":{"type":"line","color":"#444","strokeWidth":1.3}},
 {"data":{"values":[{"t":1656.6,"v":76.6},{"t":1763.4,"v":76.45},{"t":1780.2,"v":78.9},{"t":1847.8,"v":78.9}]},"mark":{"type":"line","interpolate":"step-after","color":"#000","strokeWidth":2.2,"strokeDash":[8,5]}},
 {"data":{"values":[{"t":1656.6,"v":77.75},{"t":1763.4,"v":79.4},{"t":1780.2,"v":81.0},{"t":1847.8,"v":81.0}]},"mark":{"type":"line","interpolate":"step-after","color":"#000","strokeWidth":2.5}},
 {"data":{"values":[{"t":1656.6,"v":60,"v2":83.3},{"t":1763.9,"v":60,"v2":84.4},{"t":1780,"v":60,"v2":84.3},{"t":1847.7,"v":60,"v2":84.4}]},"mark":{"type":"rule","color":"#000","strokeWidth":1.3,"strokeDash":[7,5]},"encoding":{"y2":{"field":"v2"}}},
 {"data":{"values":[{"t":1656.6,"t2":1763.9,"v":70.67},{"t":1780,"t2":1847.7,"v":70.67},{"t":1763.9,"t2":1840.7,"v":66.0}]},"mark":{"type":"rule","color":"#000","strokeWidth":1.3},"encoding":{"x2":{"field":"t2"}}},
 {"data":{"values":[{"t":1656.6,"v":70.67},{"t":1780,"v":70.67},{"t":1763.9,"v":66.0}]},"mark":{"type":"point","shape":"M0,0L1,-0.19L1,0.19Z","size":1764,"filled":true,"color":"#000","opacity":1}},
 {"data":{"values":[{"t":1763.9,"v":70.67},{"t":1847.7,"v":70.67},{"t":1780,"v":66.0}]},"mark":{"type":"point","shape":"M0,0L-1,-0.19L-1,0.19Z","size":1764,"filled":true,"color":"#000","opacity":1}},
 {"data":{"values":[{"t":1710.1,"v":72.13,"txt":"long braking time"},{"t":1812.5,"v":72.13,"txt":"pulse braking"},{"t":1809.7,"v":67.53,"txt":"short braking time"}]},"mark":{"type":"text","fontSize":25,"align":"center","baseline":"middle"},"encoding":{"text":{"field":"txt"}}},
 {"data":{"values":[{"t":1674.3,"t2":1689.8,"v":66.48}]},"mark":{"type":"rule","color":"#444","strokeWidth":1.3},"encoding":{"x2":{"field":"t2"}}},
 {"data":{"values":[{"t":1716.3,"t2":1731.8,"v":66.48}]},"mark":{"type":"rule","color":"#666","strokeWidth":1.3,"strokeDash":[2,2]},"encoding":{"x2":{"field":"t2"}}},
 {"data":{"values":[{"t":1674.3,"t2":1689.8,"v":63.62}]},"mark":{"type":"rule","color":"#000","strokeWidth":2.5},"encoding":{"x2":{"field":"t2"}}},
 {"data":{"values":[{"t":1716.3,"t2":1731.8,"v":63.62}]},"mark":{"type":"rule","color":"#000","strokeWidth":2.2,"strokeDash":[8,5]},"encoding":{"x2":{"field":"t2"}}},
 {"data":{"values":[{"t":1692.7,"v":66.48,"txt":"Y(t)"},{"t":1734.5,"v":66.48,"txt":"Y(t)"},{"t":1692.7,"v":63.52,"txt":"Z(t)"},{"t":1735.5,"v":63.52,"txt":"Z(t)"},{"t":1653.8,"v":84.46,"txt":"T"},{"t":1853.4,"v":61.76,"txt":"t"}]},"mark":{"type":"text","fontStyle":"italic","fontSize":26,"align":"left","baseline":"middle"},"encoding":{"text":{"field":"txt"}}},
 {"data":{"values":[{"t":1658.9,"v":84.46,"txt":"[°C]"},{"t":1855.6,"v":61.76,"txt":"[s]"}]},"mark":{"type":"text","fontSize":25,"align":"left","baseline":"middle"},"encoding":{"text":{"field":"txt"}}},
 {"data":{"values":[{"t":1703.9,"v":65.87,"txt":"LD"},{"t":1745.8,"v":65.87,"txt":"RD"},{"t":1703.9,"v":62.91,"txt":"LD"},{"t":1746.3,"v":62.91,"txt":"RD"}]},"mark":{"type":"text","fontSize":15,"align":"left","baseline":"middle"},"encoding":{"text":{"field":"txt"}}},
 {"data":{"values":[{"t":1650,"t2":1853,"v":60},{"t":1650,"v":60,"v2":84.8}]},"mark":{"type":"rule","color":"#000","strokeWidth":1.5},"encoding":{"x2":{"field":"t2"},"y2":{"field":"v2"}}},
 {"data":{"values":[{"t":1857.6,"v":60}]},"mark":{"type":"point","shape":"M0,0L-1,-0.2L-1,0.2Z","size":1600,"filled":true,"color":"#000","opacity":1}},
 {"data":{"values":[{"t":1650,"v":85.63}]},"mark":{"type":"point","shape":"M0,0L-0.27,1L0.27,1Z","size":900,"filled":true,"color":"#000","opacity":1}}
 ]},
{"data":{"values":[{"t":1315.4,"v":90.55},{"t":1675.4,"v":85.23}]},
 "encoding":{
 "x":{"field":"t","type":"quantitative","scale":{"domain":[0,2700],"nice":false,"zero":false},"axis":null},
 "y":{"field":"v","type":"quantitative","scale":{"domain":[30,110],"nice":false,"zero":false},"axis":null}},
 "layer":[
 {"mark":{"type":"line","color":"#000","strokeWidth":1.3}},
 {"mark":{"type":"point","filled":true,"color":"#000","size":55,"opacity":1}}
 ]}
]
}
